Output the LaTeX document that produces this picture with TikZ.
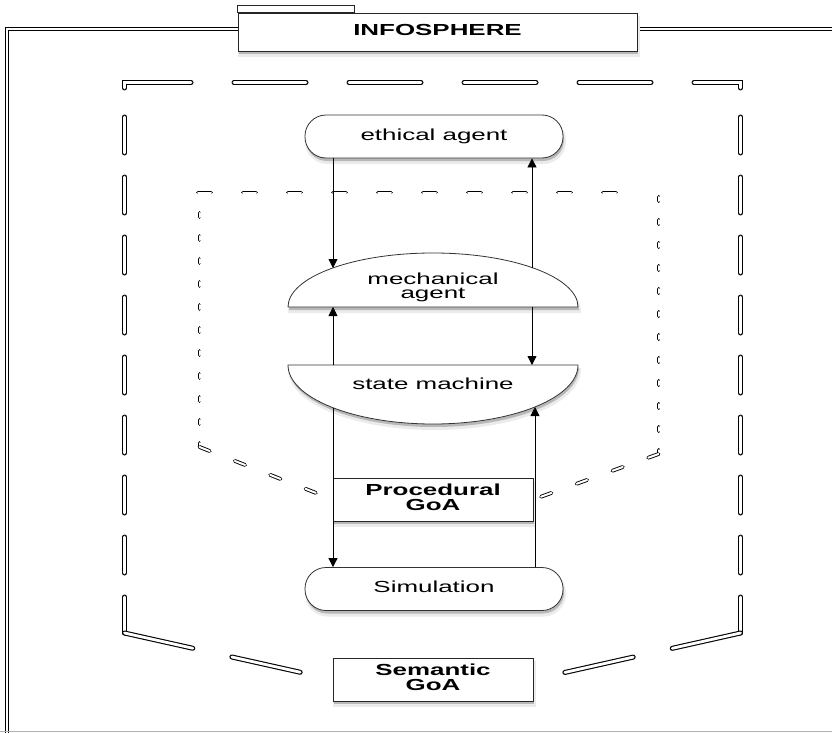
\documentclass[tikz,border=0pt]{standalone}
\usepackage{fontspec}
\setmainfont{Liberation Sans}
\usepackage{graphicx}
\usetikzlibrary{arrows.meta,backgrounds}

\newcommand{\wt}[1]{\scalebox{1.62}[1]{\begin{tabular}{@{}c@{}}#1\end{tabular}}}

\tikzset{
  softshadow/.style={
    preaction={draw=black!8, line width=3pt, fill=black!8, transform canvas={xshift=1.5pt,yshift=-4.5pt}},
    preaction={fill=black!28, draw=none, transform canvas={xshift=1pt,yshift=-3pt}}},
  agentbox/.style={draw=black!80, line width=0.8pt, fill=white, rounded corners=21pt,
    minimum width=258pt, minimum height=43pt, inner sep=0pt, softshadow},
  goabox/.style={draw=black!85, line width=0.8pt, fill=white, minimum width=200pt,
    minimum height=43pt, inner sep=0pt, softshadow, font=\bfseries},
  dome/.style={draw=black!80, line width=0.8pt, fill=white, softshadow},
  outerdash/.style={double, line width=1.1pt, double distance=2.8pt, line cap=round},
  innerdash/.style={double, line width=0.9pt, double distance=2pt, line cap=round},
  flow/.style={-{Triangle[length=9pt,width=9pt]}, line width=0.8pt},
  sphereframe/.style={double, line width=0.8pt, double distance=2.4pt},
}

\begin{document}
\fontsize{16}{14.5}\selectfont
\begin{tikzpicture}[x=1pt, y=-1pt]
\useasboundingbox (0,0) rectangle (832,733);
% frame of the infosphere
\draw[sphereframe] (7,760) -- (7,29) -- (860,29);
\draw[black!30, line width=1.5pt] (0,731.5) -- (832,731.5);

\node[draw=black!85, line width=0.8pt, fill=white, minimum width=399pt, minimum height=38pt,
  softshadow, font=\bfseries] (info) at (437.5,32) {\wt{INFOSPHERE}};
\draw[line width=0.8pt, draw=black!85, fill=white] (info.north west) rectangle ++(117,-7);

\node[agentbox] (eth) at (434,136.5) {\wt{ethical agent}};
\node (mech) at (433,288) {\wt{mechanical\\agent}};
\node (sm) at (433,386) {\wt{state machine}};
\node[goabox] (proc) at (433,499.5) {\wt{Procedural\\GoA}};
\node[agentbox] (sim) at (434,589) {\wt{Simulation}};
\node[goabox] (sem) at (433,679.5) {\wt{Semantic\\GoA}};

\begin{scope}[on background layer]
  % semantic level
  \draw[outerdash, dash pattern=on 72pt off 43pt] (124.5,88) -- (124.5,82.5) -- (740.5,82.5) -- (740.5,88);
  \draw[outerdash, dash pattern=on 36pt off 24pt] (124.5,633) -- (124.5,95);
  \draw[outerdash, dash pattern=on 36pt off 24pt] (740.5,633) -- (740.5,95);
  \draw[outerdash, dash pattern=on 70pt off 40pt] (124.5,633) -- (sem.west);
  \draw[outerdash, dash pattern=on 70pt off 40pt] (740.5,633) -- (sem.east);
  % procedural level
  \draw[innerdash, dash pattern=on 13pt off 32pt] (198,192.5) -- (640,192.5);
  \draw[innerdash, dash pattern=on 4pt off 19pt] (199.5,447) -- (199.5,205);
  \draw[innerdash, dash pattern=on 4pt off 19pt] (658.5,454) -- (658.5,197);
  \draw[innerdash, dash pattern=on 11pt off 27pt] (199.5,447) -- (proc.west);
  \draw[innerdash, dash pattern=on 11pt off 27pt] (658.5,454) -- (proc.east);
  % mechanical agent and state machine
  \path[dome] (288,307) arc[start angle=180, end angle=0, x radius=145pt, y radius=54pt] -- cycle;
  \path[dome] (288,365) arc[start angle=180, end angle=360, x radius=145pt, y radius=59pt] -- cycle;
\end{scope}

\coordinate (mechin) at (333,268);
\coordinate (mechout) at (532,267.5);
\coordinate (mechbase) at (433,307);
\coordinate (smtop) at (433,365);
\coordinate (smout) at (333,408);
\coordinate (smin) at (535,407);

\draw[flow] (eth.south -| mechin) -- (mechin);
\draw[flow] (mechout) -- (eth.south -| mechout);
\draw[flow] (smtop -| mechin) -- (mechbase -| mechin);
\draw[flow] (mechbase -| mechout) -- (smtop -| mechout);
\draw[flow] (smout) -- (sim.north -| smout);
\draw[flow] (sim.north -| smin) -- (smin);
\end{tikzpicture}
\end{document}
